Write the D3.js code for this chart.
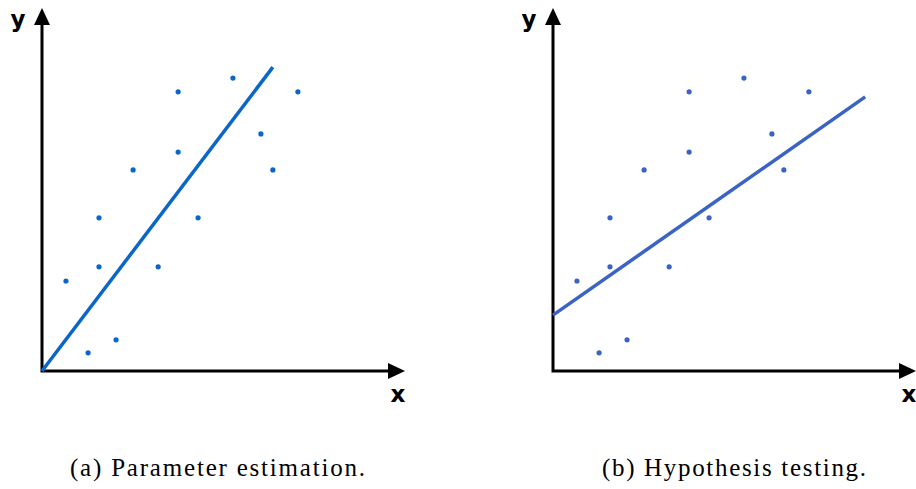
<!DOCTYPE html>
<html>
<head>
<meta charset="utf-8">
<script src="https://cdn.jsdelivr.net/npm/d3@7"></script>
<style>
  body { margin: 0; background: #fff; }
  svg { display: block; }
</style>
</head>
<body>
<svg id="chart" width="916" height="489"></svg>
<script>
// scatter points (same sample in both panels), axis units 0..100
const pointX = [6.6, 12.7, 15.7, 15.7, 20.4, 25.1, 32.0, 37.5, 37.5, 43.0, 52.6, 60.3, 63.6, 70.5];
const pointY = [24.8, 5.0, 42.2, 28.7, 8.6, 55.4, 28.7, 76.9, 60.3, 42.2, 80.7, 65.3, 55.4, 76.9];

// fitted lines: [x0, y0, x1, y1]
const lineA = [0, 0, 63.6, 83.7];
const lineB = [0, 15.4, 86.0, 75.5];

const captions = ["(a) Parameter estimation.", "(b) Hypothesis testing."];

const panels = [
    { ox: 42, line: lineA, color: "#0a66c8", caption: captions[0], cx: 217.5, capW: 295 },
    { ox: 553, line: lineB, color: "#3a63c4", caption: captions[1], cx: 734, capW: 264 }
];

const svg = d3.select("#chart");
const originY = 371;
const axisLen = 363;

const points = pointX.map((x, i) => ({ x: x, y: pointY[i] }));

panels.forEach(function (p) {
    const x = d3.scaleLinear().domain([0, 100]).range([p.ox, p.ox + axisLen]);
    const y = d3.scaleLinear().domain([0, 100]).range([originY, originY - axisLen]);

    const g = svg.append("g");

    // axes (run under the arrowheads)
    g.append("path")
        .attr("d", `M${x(0)},${y(97)} L${x(0)},${y(0)} L${x(97)},${y(0)}`)
        .attr("fill", "none")
        .attr("stroke", "#000")
        .attr("stroke-width", 3)
        .attr("stroke-linejoin", "miter");

    // arrowheads
    const tipY = y(100), tipX = x(100);
    g.append("path")
        .attr("d", `M${x(0)},${tipY} L${x(0) - 8},${tipY + 17} L${x(0) + 8},${tipY + 17} Z`)
        .attr("fill", "#000");
    g.append("path")
        .attr("d", `M${tipX},${y(0)} L${tipX - 17},${y(0) - 8} L${tipX - 17},${y(0) + 8} Z`)
        .attr("fill", "#000");

    // axis letters
    g.append("text")
        .attr("x", x(0) - 24)
        .attr("y", 27)
        .attr("font-family", "DejaVu Sans")
        .attr("font-weight", "bold")
        .attr("font-size", 23)
        .attr("text-anchor", "middle")
        .text("y");
    g.append("text")
        .attr("x", x(100) - 7)
        .attr("y", 402)
        .attr("font-family", "DejaVu Sans")
        .attr("font-weight", "bold")
        .attr("font-size", 23)
        .attr("text-anchor", "middle")
        .text("x");

    // fitted line
    g.append("line")
        .attr("x1", x(p.line[0]))
        .attr("y1", y(p.line[1]))
        .attr("x2", x(p.line[2]))
        .attr("y2", y(p.line[3]))
        .attr("stroke", p.color)
        .attr("stroke-width", 3.5);

    // points
    g.selectAll(".pt")
        .data(points)
        .enter()
        .append("circle")
        .attr("class", "pt")
        .attr("cx", d => x(d.x))
        .attr("cy", d => y(d.y))
        .attr("r", 2.6)
        .attr("fill", p.color);

    // caption
    svg.append("text")
        .attr("x", p.cx)
        .attr("y", 476)
        .attr("font-family", "Liberation Serif")
        .attr("font-size", 25)
        .attr("text-anchor", "middle")
        .attr("textLength", p.capW)
        .attr("lengthAdjust", "spacing")
        .text(p.caption);
});
</script>
</body>
</html>
